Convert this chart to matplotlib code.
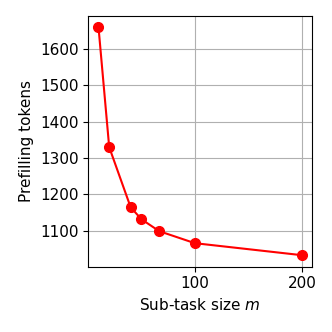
import matplotlib
matplotlib.use('Agg')
import matplotlib.pyplot as plt

plt.rcParams['font.size'] = 11

# Sub-task size vs. prefilling tokens
m = [10, 20, 40, 50, 66.7, 100, 200]
tokens = [1660, 1330, 1165, 1132, 1099, 1066, 1033]

fig, ax = plt.subplots(figsize=(3.32, 3.32), dpi=100)
fig.subplots_adjust(left=0.266, right=0.94, top=0.953, bottom=0.197)

ax.plot(m, tokens, '-o', color='red', linewidth=1.5, markersize=7)
ax.set_xticks([100, 200])
ax.set_yticks([1100, 1200, 1300, 1400, 1500, 1600])
ax.grid(True, color='#b0b0b0', linewidth=0.8)
ax.set_axisbelow(True)
ax.set_xlabel('Sub-task size $m$')
ax.set_ylabel('Prefilling tokens')

fig.savefig('out.png', dpi=100)
